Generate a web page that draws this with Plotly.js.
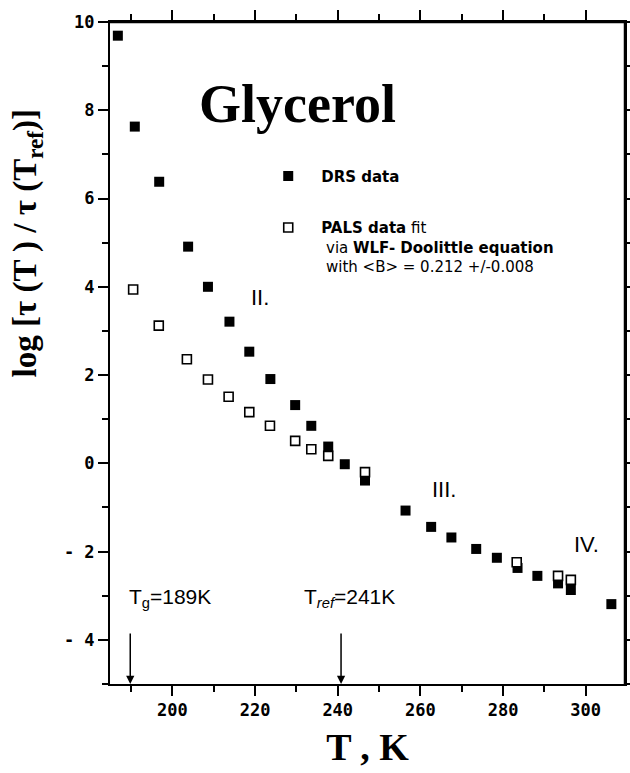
<!DOCTYPE html>
<html>
<head>
<meta charset="utf-8">
<script src="https://cdn.plot.ly/plotly-3.0.1.min.js"></script>
<style>html,body{margin:0;padding:0;background:#fff;}#chart{width:630px;height:773px;}</style>
</head>
<body>
<div id="chart"></div>
<script>
// DRS data (filled squares)
var drsT = [186.8, 190.9, 196.8, 203.8, 208.6, 213.8, 218.6, 223.7, 229.7, 233.6, 237.7, 241.7, 246.6,
            256.4, 262.6, 267.5, 273.5, 278.5, 283.5, 288.3, 293.3, 296.4, 306.2];
var drsLog = [9.69, 7.63, 6.38, 4.91, 4.00, 3.21, 2.53, 1.91, 1.32, 0.85, 0.38, -0.02, -0.39,
              -1.07, -1.44, -1.68, -1.94, -2.14, -2.37, -2.55, -2.72, -2.87, -3.19];
// PALS data fit via WLF-Doolittle (open squares)
var palsT = [190.5, 196.7, 203.5, 208.6, 213.6, 218.6, 223.6, 229.7, 233.6, 237.7, 246.6, 283.3, 293.3, 296.4];
var palsLog = [3.94, 3.12, 2.36, 1.90, 1.51, 1.16, 0.85, 0.51, 0.32, 0.17, -0.20, -2.24, -2.55, -2.64];

// Tick labels
var xTickVals = [200, 220, 240, 260, 280, 300];
var xTickText = ['200', '220', '240', '260', '280', '300'];
var yTickVals = [-4, -2, 0, 2, 4, 6, 8, 10];
var yTickText = ['- 4', '- 2', '0', '2', '4', '6', '8', '10'];

// Region labels
var regionText = ['II.', 'III.', 'IV.'];
var regionT = [221.3, 265.6, 300.1];
var regionY = [3.75, -0.60, -1.85];

// Reference temperatures marked with arrows
var markText = ['T<sub>g</sub>=189K', 'T<sub><i>ref</i></sub>=241K'];
var markLabelT = [189.0, 231.4];
var markArrowT = [189.8, 240.8];

var xRange = [184.9, 309.5];
var yRange = [-5, 10];

var numFont = {family: 'DejaVu Sans Mono', size: 17, color: '#000', weight: 700};
var legFont = {family: 'DejaVu Sans', size: 15, color: '#000'};

var traces = [
  {x: drsT, y: drsLog, type: 'scatter', mode: 'markers', name: '<b>DRS data</b>',
   legendgroup: 'a',
   marker: {symbol: 'square', size: 10, color: '#000', line: {width: 0}}},
  {x: palsT, y: palsLog, type: 'scatter', mode: 'markers',
   name: '<b>PALS data</b> fit<br>&nbsp;via <b>WLF- Doolittle equation</b><br>&nbsp;with &lt;B&gt; = 0.212 +/-0.008',
   legendgroup: 'b',
   marker: {symbol: 'square', size: 9, color: '#fff', line: {width: 1.6, color: '#000'}}}
];

var annotations = [];
annotations.push({xref: 'paper', yref: 'paper', x: 0.168, y: 0.876, xanchor: 'left', yanchor: 'middle',
  text: '<b>Glycerol</b>', showarrow: false,
  font: {family: 'Liberation Serif, Times New Roman, serif', size: 54, color: '#000'}});
annotations.push({xref: 'paper', yref: 'paper', x: -0.1605, y: 0.666, xanchor: 'center', yanchor: 'middle',
  textangle: -90, showarrow: false,
  text: '<b>log [τ (T ) / τ (T<sub>ref</sub>)]</b>',
  font: {family: 'Liberation Serif, Times New Roman, serif', size: 33, color: '#000'}});
for (var i = 0; i < regionText.length; i++) {
  annotations.push({x: regionT[i], y: regionY[i], xref: 'x', yref: 'y', text: regionText[i], showarrow: false,
    xanchor: 'center', yanchor: 'middle',
    font: {family: 'Liberation Sans, Arial, sans-serif', size: 22, color: '#000'}});
}
for (var j = 0; j < markText.length; j++) {
  annotations.push({x: markLabelT[j], y: -3.05, xref: 'x', yref: 'y', text: markText[j], showarrow: false,
    xanchor: 'left', yanchor: 'middle',
    font: {family: 'Liberation Sans, Arial, sans-serif', size: 21, color: '#000'}});
  annotations.push({x: markArrowT[j], y: yRange[0], xref: 'x', yref: 'y', text: '', showarrow: true,
    ax: 0, ay: -52, arrowhead: 2, arrowsize: 1.1, arrowwidth: 1.5, arrowcolor: '#000', standoff: 0});
}

var layout = {
  width: 630, height: 773,
  margin: {l: 110, r: 5, t: 22, b: 89},
  paper_bgcolor: '#fff', plot_bgcolor: '#fff',
  showlegend: true,
  legend: {x: 0.282, y: 0.792, xanchor: 'left', yanchor: 'top', bgcolor: 'rgba(0,0,0,0)',
    font: legFont, itemwidth: 56, valign: 'top', traceorder: 'grouped', tracegroupgap: 29},
  xaxis: {range: xRange, showgrid: false, zeroline: false, showline: true, mirror: 'all',
    linecolor: '#000', linewidth: 2,
    tickmode: 'array', tickvals: xTickVals, ticktext: xTickText,
    ticks: 'outside', ticklen: 10, tickwidth: 2, tickcolor: '#000',
    tickfont: numFont, minor: {tick0: 190, dtick: 10, ticks: 'outside', ticklen: 6, tickwidth: 2, tickcolor: '#000'},
    title: {text: '<b>T , K</b>', font: {family: 'Liberation Serif, Times New Roman, serif', size: 38, color: '#000'}, standoff: 14}},
  yaxis: {range: yRange, showgrid: false, zeroline: false, showline: true, mirror: 'all',
    linecolor: '#000', linewidth: 2,
    tickmode: 'array', tickvals: yTickVals, ticktext: yTickText,
    ticks: 'outside', ticklen: 10, tickwidth: 2, tickcolor: '#000',
    tickfont: numFont, minor: {tick0: 1, dtick: 1, ticks: 'outside', ticklen: 6, tickwidth: 2, tickcolor: '#000'}},
  shapes: [
    {type: 'line', xref: 'paper', yref: 'paper', x0: 0, x1: 1, y0: 1, y1: 1,
     line: {color: '#000', width: 2.5}, layer: 'above'},
    {type: 'line', xref: 'paper', yref: 'paper', x0: 1, x1: 1, y0: 0, y1: 1,
     line: {color: '#000', width: 2.5}, layer: 'above'}
  ],
  annotations: annotations
};

Plotly.newPlot('chart', traces, layout, {displayModeBar: false, staticPlot: true});
</script>
</body>
</html>
